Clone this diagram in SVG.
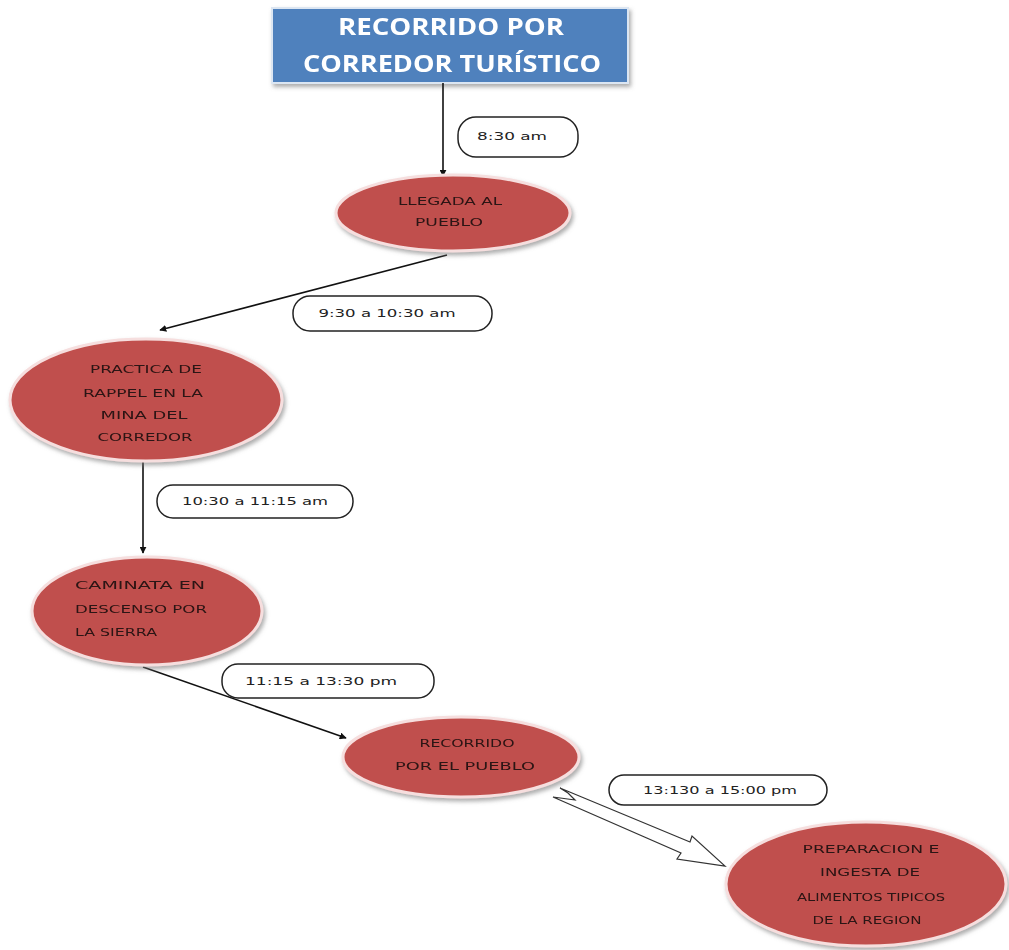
<svg xmlns="http://www.w3.org/2000/svg" width="1009" height="950" viewBox="0 0 1009 950">
<defs>
<style>
.node{fill:#c0504d;stroke:#f6dede;stroke-width:3}
.nt{font-family:"DejaVu Sans",Verdana,sans-serif;font-size:10.5px;fill:#2a1212;text-anchor:middle}
.lb{fill:#fff;stroke:#222;stroke-width:1.5}
.lt{font-family:"DejaVu Sans",Verdana,sans-serif;font-size:10px;fill:#222;text-anchor:middle}
.con{stroke:#111;stroke-width:1.6;fill:none}
.tt{font-family:"Open Sans","DejaVu Sans",sans-serif;font-weight:bold;font-size:24px;fill:#fff;text-anchor:middle}
</style>
<marker id="ah" viewBox="0 0 10 10" refX="9" refY="5" markerWidth="7" markerHeight="7" markerUnits="userSpaceOnUse" orient="auto">
<path d="M0,0 L10,5 L0,10 z" fill="#111"/>
</marker>
<filter id="sh" x="-20%" y="-20%" width="140%" height="150%">
<feDropShadow dx="2" dy="3" stdDeviation="2" flood-color="#777" flood-opacity="0.6"/>
</filter>
</defs>
<rect width="1009" height="950" fill="#fff"/>

<g id="title" filter="url(#sh)">
<rect x="272" y="8" width="356" height="75" fill="#4f81bd" stroke="#dce6f2" stroke-width="2"/>
<text class="tt" x="451" y="35" textLength="226" lengthAdjust="spacingAndGlyphs">RECORRIDO POR</text>
<text class="tt" x="452" y="72" textLength="298" lengthAdjust="spacingAndGlyphs">CORREDOR TURÍSTICO</text>
</g>

<g id="connectors">
<line class="con" x1="443" y1="83" x2="443" y2="176" marker-end="url(#ah)" stroke-width="1.8"/>
<line class="con" x1="447" y1="255" x2="160" y2="330" marker-end="url(#ah)"/>
<line class="con" x1="143" y1="462" x2="143" y2="553" marker-end="url(#ah)" stroke-width="1.8"/>
<line class="con" x1="143" y1="667" x2="346" y2="738" marker-end="url(#ah)"/>
<path d="M560,788 L690,842 L692,836 L725,866 L677,859 L681,853 L553,797 L575,800 L568,793 Z" fill="#fff" stroke="#333" stroke-width="1.2" stroke-linejoin="miter"/>
</g>

<g id="label1">
<rect class="lb" x="458" y="117" width="120" height="40" rx="18"/>
<text class="lt" x="512" y="140" textLength="70" lengthAdjust="spacingAndGlyphs">8:30 am</text>
</g>
<g id="label2">
<rect class="lb" x="293" y="296" width="199" height="35" rx="17"/>
<text class="lt" x="387" y="317" textLength="137" lengthAdjust="spacingAndGlyphs">9:30 a 10:30 am</text>
</g>
<g id="label3">
<rect class="lb" x="157" y="485" width="196" height="33" rx="16"/>
<text class="lt" x="255" y="505" textLength="146" lengthAdjust="spacingAndGlyphs">10:30 a 11:15 am</text>
</g>
<g id="label4">
<rect class="lb" x="222" y="664" width="212" height="34" rx="16"/>
<text class="lt" x="321" y="685" textLength="152" lengthAdjust="spacingAndGlyphs">11:15 a 13:30 pm</text>
</g>
<g id="label5">
<rect class="lb" x="609" y="775" width="218" height="30" rx="15"/>
<text class="lt" x="720" y="794" textLength="154" lengthAdjust="spacingAndGlyphs">13:130 a 15:00 pm</text>
</g>

<g id="n1" filter="url(#sh)">
<ellipse class="node" cx="453" cy="213" rx="117" ry="38"/>
<text class="nt" x="450" y="205" textLength="104" lengthAdjust="spacingAndGlyphs">LLEGADA AL</text>
<text class="nt" x="449" y="226" textLength="68" lengthAdjust="spacingAndGlyphs">PUEBLO</text>
</g>
<g id="n2" filter="url(#sh)">
<ellipse class="node" cx="146" cy="400" rx="136" ry="61"/>
<text class="nt" x="146" y="373" textLength="112" lengthAdjust="spacingAndGlyphs">PRACTICA DE</text>
<text class="nt" x="143" y="397" textLength="120" lengthAdjust="spacingAndGlyphs">RAPPEL EN LA</text>
<text class="nt" x="144" y="419" textLength="87" lengthAdjust="spacingAndGlyphs">MINA DEL</text>
<text class="nt" x="145" y="441" textLength="95" lengthAdjust="spacingAndGlyphs">CORREDOR</text>
</g>
<g id="n3" filter="url(#sh)">
<ellipse class="node" cx="147" cy="611" rx="115" ry="54"/>
<text class="nt" x="75" y="589" text-anchor="start" style="text-anchor:start" textLength="130" lengthAdjust="spacingAndGlyphs">CAMINATA  EN</text>
<text class="nt" x="75" y="613" style="text-anchor:start" textLength="132" lengthAdjust="spacingAndGlyphs">DESCENSO POR</text>
<text class="nt" x="75" y="636" style="text-anchor:start" textLength="82" lengthAdjust="spacingAndGlyphs">LA SIERRA</text>
</g>
<g id="n4" filter="url(#sh)">
<ellipse class="node" cx="461" cy="757" rx="118" ry="40"/>
<text class="nt" x="467" y="747" textLength="95" lengthAdjust="spacingAndGlyphs">RECORRIDO</text>
<text class="nt" x="465" y="770" textLength="140" lengthAdjust="spacingAndGlyphs">POR EL PUEBLO</text>
</g>
<g id="n5" filter="url(#sh)">
<ellipse class="node" cx="866" cy="884" rx="140" ry="62"/>
<text class="nt" x="871" y="853" textLength="137" lengthAdjust="spacingAndGlyphs">PREPARACION  E</text>
<text class="nt" x="870" y="876" textLength="100" lengthAdjust="spacingAndGlyphs">INGESTA  DE</text>
<text class="nt" x="871" y="901" textLength="148" lengthAdjust="spacingAndGlyphs">ALIMENTOS  TIPICOS</text>
<text class="nt" x="867" y="924" textLength="109" lengthAdjust="spacingAndGlyphs">DE LA REGION</text>
</g>
</svg>
